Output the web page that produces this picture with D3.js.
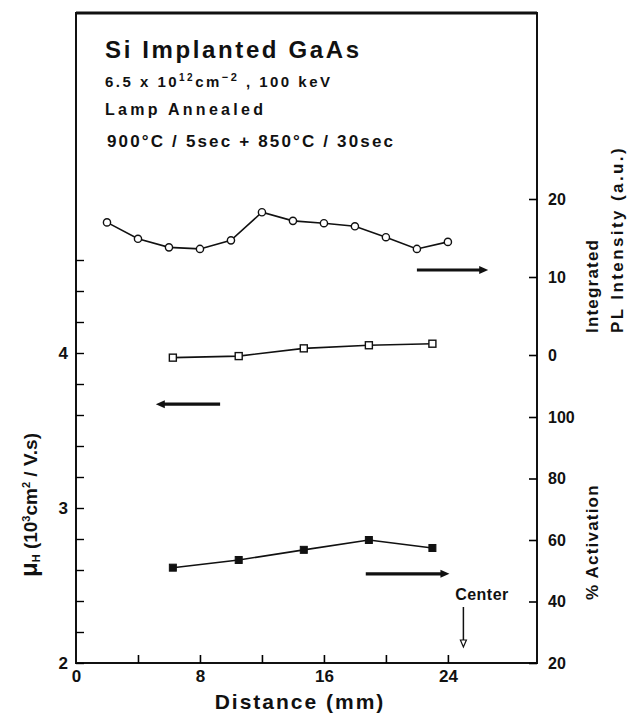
<!DOCTYPE html>
<html>
<head>
<meta charset="utf-8">
<script src="https://cdn.jsdelivr.net/npm/d3@7"></script>
<style>
  body { margin: 0; background: #fff; }
  svg text { font-family: "Liberation Sans", Arial, sans-serif; font-weight: bold; fill: #111; }
</style>
</head>
<body>
<div id="chart"></div>
<script>
// PL intensity (open circles, right upper axis)
const plDistance = [2, 4, 6, 8, 10, 12, 14, 16, 18, 20, 22, 24];
const plIntensity = [17.0, 14.9, 13.8, 13.6, 14.7, 18.3, 17.2, 16.9, 16.5, 15.1, 13.6, 14.5];

// Hall mobility (open squares, left axis)
const hallDistance = [6.25, 10.5, 14.7, 18.9, 23];
const hallMobility = [3.97, 3.98, 4.03, 4.05, 4.06];

// % activation (filled squares, right lower axis)
const actDistance = [6.25, 10.5, 14.7, 18.9, 23];
const activation = [51.0, 53.5, 56.8, 60.0, 57.4];

// tick values
const xTicks = [4, 8, 12, 16, 20, 24];
const xLabels = [0, 8, 16, 24];
const muTicks = d3.range(2, 4.61, 0.2);
const plTicks = [0, 10, 20];
const actTicks = [20, 40, 60, 80, 100];

const width = 628, height = 713;
const svg = d3.select("#chart").append("svg")
  .attr("width", width)
  .attr("height", height);

// plot frame in pixels
const frame = { left: 76, right: 537, top: 13, bottom: 663 };

const x = d3.scaleLinear().domain([0, 29.75]).range([frame.left, frame.right]);
const yMu = d3.scaleLinear().domain([2, 4]).range([frame.bottom, 353]);
const yPL = d3.scaleLinear().domain([0, 20]).range([355, 199]);
const yAct = d3.scaleLinear().domain([20, 100]).range([frame.bottom, 417]);

// frame
svg.append("rect")
  .attr("x", frame.left).attr("y", frame.top)
  .attr("width", frame.right - frame.left).attr("height", frame.bottom - frame.top)
  .attr("fill", "none").attr("stroke", "#111").attr("stroke-width", 2);
svg.append("line")
  .attr("x1", frame.left).attr("x2", frame.right)
  .attr("y1", frame.top).attr("y2", frame.top)
  .attr("stroke", "#111").attr("stroke-width", 3);

// x axis (ticks point inward)
const xAxis = svg.append("g")
  .attr("transform", `translate(0,${frame.bottom})`)
  .call(d3.axisBottom(x).tickValues([0].concat(xTicks)).tickSize(-8).tickPadding(7)
    .tickFormat(d => xLabels.includes(d) ? d : ""));
xAxis.select(".domain").remove();
xAxis.selectAll("line").attr("stroke-width", 1.6).filter(d => d === 0).remove();
xAxis.selectAll("text").attr("font-size", 17).attr("font-family", null);

// left axis: mobility
const muAxis = svg.append("g")
  .attr("transform", `translate(${frame.left},0)`)
  .call(d3.axisLeft(yMu).tickValues(muTicks).tickSize(-8).tickPadding(8)
    .tickFormat(d => Math.abs(d - Math.round(d)) < 1e-6 ? Math.round(d) : ""));
muAxis.select(".domain").remove();
muAxis.selectAll("line").attr("stroke-width", 1.4);
muAxis.selectAll("text").attr("font-size", 17).attr("font-family", null);

// right axis: PL intensity
const plAxis = svg.append("g")
  .attr("transform", `translate(${frame.right},0)`)
  .call(d3.axisRight(yPL).tickValues(plTicks).tickSize(-8).tickPadding(11));
plAxis.select(".domain").remove();
plAxis.selectAll("line").attr("stroke-width", 1.6);
plAxis.selectAll("text").attr("font-size", 16).attr("font-family", null);

// right axis: activation
const actAxis = svg.append("g")
  .attr("transform", `translate(${frame.right},0)`)
  .call(d3.axisRight(yAct).tickValues(actTicks).tickSize(-8).tickPadding(11));
actAxis.select(".domain").remove();
actAxis.selectAll("line").attr("stroke-width", 1.6);
actAxis.selectAll("text").attr("font-size", 16).attr("font-family", null);

// series lines
const plData = plDistance.map((d, i) => [d, plIntensity[i]]);
const hallData = hallDistance.map((d, i) => [d, hallMobility[i]]);
const actData = actDistance.map((d, i) => [d, activation[i]]);

function drawLine(data, yScale) {
  svg.append("path")
    .datum(data)
    .attr("fill", "none")
    .attr("stroke", "#111")
    .attr("stroke-width", 1.6)
    .attr("d", d3.line().x(d => x(d[0])).y(d => yScale(d[1])));
}
drawLine(plData, yPL);
drawLine(hallData, yMu);
drawLine(actData, yAct);

svg.selectAll(".pl").data(plData).enter().append("circle")
  .attr("cx", d => x(d[0])).attr("cy", d => yPL(d[1]))
  .attr("r", 3.6).attr("fill", "#fff").attr("stroke", "#111").attr("stroke-width", 1.4);

const sq = 7;
svg.selectAll(".hall").data(hallData).enter().append("rect")
  .attr("x", d => x(d[0]) - sq / 2).attr("y", d => yMu(d[1]) - sq / 2)
  .attr("width", sq).attr("height", sq)
  .attr("fill", "#fff").attr("stroke", "#111").attr("stroke-width", 1.4);

svg.selectAll(".act").data(actData).enter().append("rect")
  .attr("x", d => x(d[0]) - sq / 2).attr("y", d => yAct(d[1]) - sq / 2)
  .attr("width", sq).attr("height", sq)
  .attr("fill", "#111").attr("stroke", "#111").attr("stroke-width", 1);

// axis pointer arrows (in data units)
function arrow(x0, x1, yPix) {
  const dir = x1 > x0 ? 1 : -1;
  const xe = x(x1);
  svg.append("line")
    .attr("x1", x(x0)).attr("x2", xe - dir * 6)
    .attr("y1", yPix).attr("y2", yPix)
    .attr("stroke", "#111").attr("stroke-width", 3.2);
  svg.append("path")
    .attr("d", `M${xe},${yPix} L${xe - dir * 9},${yPix - 4} L${xe - dir * 9},${yPix + 4} Z`)
    .attr("fill", "#111");
}
arrow(22, 26.6, yPL(10.9));
arrow(9.3, 5.15, yMu(3.67));
arrow(18.7, 24.1, yAct(49));

// Center marker
const cx = x(25);
svg.append("text").attr("x", x(26.2)).attr("y", 600)
  .attr("text-anchor", "middle").attr("font-size", 16).attr("letter-spacing", 0.5)
  .text("Center");
svg.append("line").attr("x1", cx).attr("x2", cx).attr("y1", 607).attr("y2", 641)
  .attr("stroke", "#111").attr("stroke-width", 1.5);
svg.append("path").attr("d", `M${cx - 3},${640} L${cx + 3},${640} L${cx},${647} Z`)
  .attr("fill", "#fff").attr("stroke", "#111").attr("stroke-width", 1.2);

// annotation block
svg.append("text").attr("x", 105).attr("y", 58).attr("font-size", 24)
  .attr("textLength", 254).attr("lengthAdjust", "spacing")
  .text("Si  Implanted  GaAs");

const l2 = svg.append("text").attr("x", 105).attr("y", 87).attr("font-size", 15)
  .attr("textLength", 225).attr("lengthAdjust", "spacing");
l2.append("tspan").text("6.5 x 10");
l2.append("tspan").attr("dy", -6).attr("font-size", 10).text("12");
l2.append("tspan").attr("dy", 6).text("cm");
l2.append("tspan").attr("dy", -6).attr("font-size", 11).text("−2");
l2.append("tspan").attr("dy", 6).text(" ,  100 keV");

svg.append("text").attr("x", 105).attr("y", 115).attr("font-size", 16)
  .attr("textLength", 158).attr("lengthAdjust", "spacing")
  .text("Lamp  Annealed");

svg.append("text").attr("x", 107).attr("y", 147).attr("font-size", 17)
  .attr("textLength", 286).attr("lengthAdjust", "spacing")
  .text("900°C / 5sec + 850°C / 30sec");

// x title
svg.append("text").attr("x", 300).attr("y", 709).attr("text-anchor", "middle")
  .attr("font-size", 21).attr("letter-spacing", 2)
  .text("Distance (mm)");

// left title
const lt = svg.append("text")
  .attr("transform", "translate(37,505) rotate(-90)")
  .attr("text-anchor", "middle").attr("font-size", 19);
lt.append("tspan").attr("font-size", 24).text("μ");
lt.append("tspan").attr("font-size", 11).attr("dy", 3).text("H");
lt.append("tspan").attr("dy", -3).text(" (10");
lt.append("tspan").attr("dy", -7).attr("font-size", 11).text("3");
lt.append("tspan").attr("dy", 7).text("cm");
lt.append("tspan").attr("dy", -7).attr("font-size", 11).text("2");
lt.append("tspan").attr("dy", 7).text(" / V.s)");

// right titles
svg.append("text").attr("transform", "translate(598,333) rotate(-90)")
  .attr("font-size", 17).attr("letter-spacing", 1.2).text("Integrated");
svg.append("text").attr("transform", "translate(623,333) rotate(-90)")
  .attr("font-size", 17).attr("letter-spacing", 2.4).text("PL  Intensity (a.u.)");
svg.append("text").attr("transform", "translate(598,600) rotate(-90)")
  .attr("font-size", 17).attr("letter-spacing", 1.2).text("% Activation");
</script>
</body>
</html>
